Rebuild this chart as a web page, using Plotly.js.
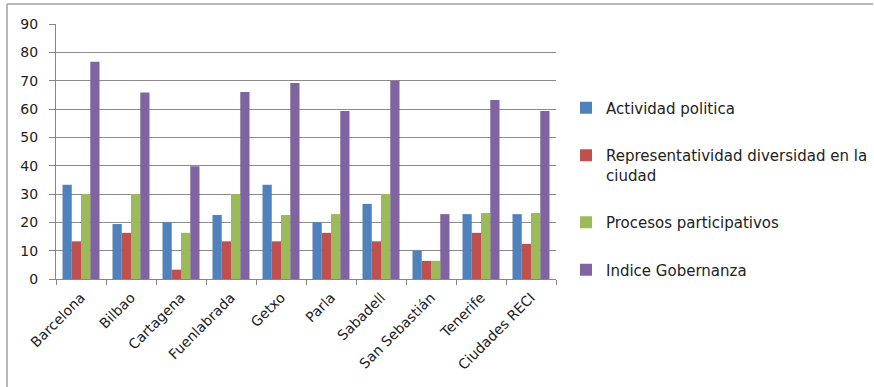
<!DOCTYPE html>
<html>
<head>
<meta charset="utf-8">
<script src="https://cdn.plot.ly/plotly-3.0.1.min.js"></script>
<style>html,body{margin:0;padding:0;background:#fff;}#chart{width:874px;height:387px;}</style>
</head>
<body>
<div id="chart"></div>
<script>
const categories = ["Barcelona","Bilbao","Cartagena","Fuenlabrada","Getxo","Parla","Sabadell","San Sebastián","Tenerife","Ciudades RECI"];
const seriesNames = ["Actividad politica","Representatividad diversidad en la<br>ciudad","Procesos participativos","Indice Gobernanza"];
const actividadPolitica = [33.3, 19.4, 20.0, 22.6, 33.3, 20.0, 26.5, 10.0, 22.9, 22.9];
const representatividad = [13.3, 16.3, 3.3, 13.3, 13.3, 16.3, 13.3, 6.4, 16.3, 12.4];
const procesosParticipativos = [30.0, 30.0, 16.3, 30.0, 22.6, 22.9, 30.0, 6.4, 23.3, 23.3];
const indiceGobernanza = [76.7, 65.8, 39.8, 66.0, 69.2, 59.3, 70.0, 22.9, 63.2, 59.3];
const colors = ["#4F81BD","#C0504D","#9BBB59","#8064A2"];
const yTicks = [0,10,20,30,40,50,60,70,80,90];

const allValues = [actividadPolitica, representatividad, procesosParticipativos, indiceGobernanza];
const traces = allValues.map((vals, i) => ({
  type: "bar",
  x: categories,
  y: vals,
  name: seriesNames[i],
  legendgroup: "g" + i,
  marker: {color: colors[i], line: {width: 0}},
  hoverinfo: "x+y"
}));

const font = "DejaVu Sans, Verdana, sans-serif";
const layout = {
  width: 874, height: 387,
  margin: {l: 56, r: 318, t: 24, b: 108, autoexpand: false},
  paper_bgcolor: "#ffffff",
  plot_bgcolor: "#ffffff",
  barmode: "group",
  bargap: 0.26,
  bargroupgap: 0,
  font: {family: font, size: 14, color: "#222"},
  xaxis: {
    type: "category",
    tickangle: -45,
    tickson: "boundaries",
    ticks: "outside",
    ticklen: 5,
    tickcolor: "#868686",
    ticklabelstandoff: 4,
    showline: true,
    linecolor: "#868686",
    linewidth: 1,
    showgrid: false,
    tickfont: {family: font, size: 14, color: "#222"},
    automargin: false
  },
  yaxis: {
    range: [0, 90],
    tickvals: yTicks,
    ticks: "outside",
    ticklen: 6,
    tickcolor: "#868686",
    ticklabelstandoff: 8,
    showline: true,
    linecolor: "#868686",
    linewidth: 1,
    showgrid: true,
    gridcolor: "#8a8a8a",
    gridwidth: 1,
    zeroline: false,
    tickfont: {family: font, size: 14, color: "#222"},
    automargin: false
  },
  showlegend: true,
  legend: {
    x: 1.02, y: 0.735, xanchor: "left", yanchor: "top",
    traceorder: "grouped",
    tracegroupgap: 25,
    valign: "top",
    font: {family: font, size: 15, color: "#222"},
    itemwidth: 30,
    bgcolor: "rgba(0,0,0,0)"
  },
  shapes: [
    {type: "line", xref: "paper", yref: "paper", x0: -0.098, x1: 1.634, y0: 1.078, y1: 1.078, line: {color: "#a0a0a0", width: 1.5}},
    {type: "line", xref: "paper", yref: "paper", x0: -0.098, x1: -0.098, y0: 1.078, y1: -0.43, line: {color: "#a0a0a0", width: 1.5}}
  ]
};

Plotly.newPlot("chart", traces, layout, {displayModeBar: false, staticPlot: true});
</script>
</body>
</html>
